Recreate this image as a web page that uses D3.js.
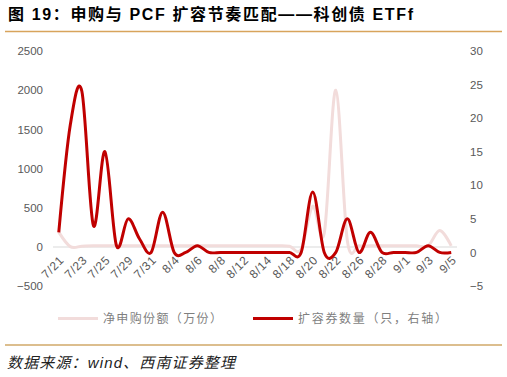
<!DOCTYPE html>
<html>
<head>
<meta charset="utf-8">
<script src="https://cdn.jsdelivr.net/npm/d3@7"></script>
<style>
  html, body { margin: 0; padding: 0; background: #fff; }
  svg { display: block; }
</style>
</head>
<body>
<div id="chart"></div>
<script>
// trading days 7/21 - 9/5
const dates = ['7/21','7/22','7/23','7/24','7/25','7/28','7/29','7/30','7/31','8/1',
  '8/4','8/5','8/6','8/7','8/8','8/11','8/12','8/13','8/14','8/15',
  '8/18','8/19','8/20','8/21','8/22','8/25','8/26','8/27','8/28','8/29',
  '9/1','9/2','9/3','9/4','9/5'];

// 净申购份额（万份）
const netSubs = [190, 5, 10, 15, 15, 15, 15, 15, 15, 15,
  15, 15, 15, 15, 15, 15, 15, 15, 15, 15,
  10, -30, 520, 180, 2000, 80, 15, 15, 15, 15,
  15, 15, 15, 210, 15];

// 扩容券数量（只，右轴）
const pcfCount = [3, 19, 24, 4, 15, 1, 5, 2, 0, 6,
  0, 0, 1, 0, 0, 0, 0, 0, 0, 0,
  0, 0, 9, 0, 0, 5, 0, 3, 0, 0,
  0, 0, 1, 0, 0];

const leftTicks = [-500, 0, 500, 1000, 1500, 2000, 2500];
const rightTicks = [-5, 0, 5, 10, 15, 20, 25, 30];

const W = 507, H = 377;
const plot = { left: 53, right: 457, top: 51, bottom: 286.2 };
const tickFont = '"Liberation Sans", Arial, sans-serif';
const cjkFont = '"Liberation Sans", "Noto Sans CJK SC", sans-serif';

const svg = d3.select('#chart').append('svg')
  .attr('width', W)
  .attr('height', H);

// Title + rules
svg.append('text')
  .attr('x', 8)
  .attr('y', 20)
  .attr('textLength', 405)
  .attr('lengthAdjust', 'spacing')
  .style('font-family', cjkFont)
  .style('font-size', '16px')
  .style('font-weight', 'bold')
  .style('fill', '#000')
  .text('图 19：申购与 PCF 扩容节奏匹配——科创债 ETFf');

svg.append('line')
  .attr('x1', 5).attr('x2', 502)
  .attr('y1', 31.5).attr('y2', 31.5)
  .style('stroke', '#d8a45c')
  .style('stroke-width', 1.5);

svg.append('line')
  .attr('x1', 5).attr('x2', 502)
  .attr('y1', 345).attr('y2', 345)
  .style('stroke', '#d1a868')
  .style('stroke-width', 1.5);

// Scales
const x = d3.scaleBand()
  .domain(dates)
  .range([plot.left, plot.right])
  .paddingInner(0)
  .paddingOuter(0);
const cx = d => x(d) + x.bandwidth() / 2;

const yL = d3.scaleLinear().domain([-500, 2500]).range([plot.bottom, plot.top]);
const yR = d3.scaleLinear().domain([-5, 30]).range([286, 51]);

// Axes
const gl = svg.append('g')
  .attr('transform', 'translate(45,0)')
  .call(d3.axisLeft(yL).tickValues(leftTicks).tickSize(0).tickPadding(2).tickFormat(d3.format('d')));
gl.select('.domain').remove();

const gr = svg.append('g')
  .attr('transform', 'translate(468,0)')
  .call(d3.axisRight(yR).tickValues(rightTicks).tickSize(0).tickPadding(2).tickFormat(d3.format('d')));
gr.select('.domain').remove();

[gl, gr].forEach(g => g.selectAll('text')
  .style('font-family', tickFont)
  .style('font-size', '11.5px')
  .style('fill', '#595959'));

// category axis line at 0
svg.append('line')
  .attr('x1', plot.left).attr('x2', plot.right)
  .attr('y1', yL(0)).attr('y2', yL(0))
  .style('stroke', '#d9d9d9')
  .style('stroke-width', 1);

const labelDates = dates.filter((d, i) => i % 2 === 0);
const gx = svg.append('g')
  .attr('transform', 'translate(0,258)')
  .call(d3.axisBottom(x).tickValues(labelDates).tickSize(0).tickPadding(0));
gx.select('.domain').remove();
gx.selectAll('text')
  .attr('y', 0)
  .attr('dy', '0.35em')
  .attr('x', 0)
  .attr('transform', 'translate(3,0) rotate(-45)')
  .style('text-anchor', 'end')
  .style('font-family', tickFont)
  .style('font-size', '12px')
  .style('letter-spacing', '0.6px')
  .style('fill', '#595959');

// Lines
const curve = d3.curveCatmullRom.alpha(0);

const lineL = d3.line()
  .x((d, i) => cx(dates[i]))
  .y(d => yL(d))
  .curve(curve);

const lineR = d3.line()
  .x((d, i) => cx(dates[i]))
  .y(d => yR(d))
  .curve(curve);

svg.append('path')
  .datum(netSubs)
  .attr('d', lineL)
  .style('fill', 'none')
  .style('stroke', '#f2dcdb')
  .style('stroke-width', 3)
  .style('stroke-linejoin', 'round');

svg.append('path')
  .datum(pcfCount)
  .attr('d', lineR)
  .style('fill', 'none')
  .style('stroke', '#c00000')
  .style('stroke-width', 3)
  .style('stroke-linejoin', 'round');

// Legend
const legend = [
  { label: '净申购份额（万份）', color: '#f2dcdb', x: 58, w: 119 },
  { label: '扩容券数量（只，右轴）', color: '#c00000', x: 253, w: 149 }
];
legend.forEach(item => {
  svg.append('line')
    .attr('x1', item.x).attr('x2', item.x + 40)
    .attr('y1', 318.5).attr('y2', 318.5)
    .style('stroke', item.color)
    .style('stroke-width', 3);
  svg.append('text')
    .attr('x', item.x + 45)
    .attr('y', 323)
    .attr('textLength', item.w)
    .attr('lengthAdjust', 'spacing')
    .style('font-family', '"Noto Sans CJK SC", sans-serif')
    .style('font-size', '12px')
    .style('fill', '#7f7f7f')
    .text(item.label);
});

// Source
svg.append('text')
  .attr('x', 7)
  .attr('y', 368)
  .attr('textLength', 228)
  .attr('lengthAdjust', 'spacing')
  .style('font-family', cjkFont)
  .style('font-size', '15px')
  .style('font-style', 'italic')
  .style('fill', '#222')
  .text('数据来源：wind、西南证券整理');
</script>
</body>
</html>
